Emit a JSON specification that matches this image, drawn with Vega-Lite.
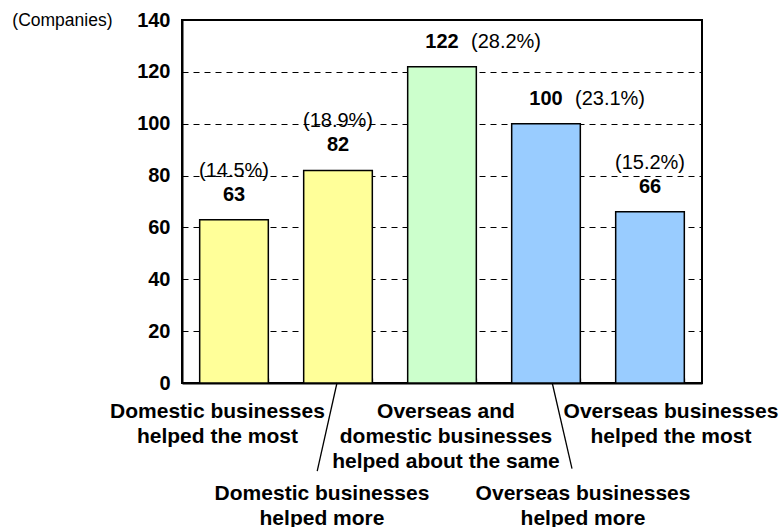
{
  "$schema": "https://vega.github.io/schema/vega-lite/v6.json",
  "width": 520,
  "height": 363,
  "autosize": {"type": "none"},
  "padding": {"left": 182, "top": 20, "right": 82, "bottom": 144},
  "background": "white",
  "config": {
    "font": "Liberation Sans",
    "view": {"stroke": "black", "strokeWidth": 2}
  },
  "data": {
    "values": [
      {"category": "Domestic businesses helped the most", "group": "Domestic", "companies": 63, "share": "(14.5%)"},
      {"category": "Domestic businesses helped more", "group": "Domestic", "companies": 82, "share": "(18.9%)"},
      {"category": "Overseas and domestic businesses helped about the same", "group": "Both", "companies": 122, "share": "(28.2%)"},
      {"category": "Overseas businesses helped more", "group": "Overseas", "companies": 100, "share": "(23.1%)"},
      {"category": "Overseas businesses helped the most", "group": "Overseas", "companies": 66, "share": "(15.2%)"}
    ]
  },
  "layer": [
    {
      "mark": {"type": "bar", "stroke": "black", "strokeWidth": 1.5},
      "encoding": {
        "x": {
          "field": "category", "type": "nominal",
          "scale": {"type": "band", "paddingInner": 0.34, "paddingOuter": 0.17,
            "domain": ["Domestic businesses helped the most", "Domestic businesses helped more", "Overseas and domestic businesses helped about the same", "Overseas businesses helped more", "Overseas businesses helped the most"]},
          "axis": {
            "orient": "bottom",
            "title": null,
            "domainColor": "black", "domainWidth": 2,
            "tickBand": "extent", "tickSize": -5, "tickColor": "black", "tickWidth": 1.2,
            "labels": false
          }
        },
        "y": {
          "field": "companies", "type": "quantitative",
          "scale": {"domain": [0, 140]},
          "axis": {
            "title": "(Companies)", "titleAngle": 0, "titleAlign": "right", "titleBaseline": "middle",
            "titleX": -70, "titleY": 0, "titleFontSize": 17.5, "titleFontWeight": "normal", "titleColor": "black",
            "values": [0, 20, 40, 60, 80, 100, 120, 140],
            "labelFontSize": 20, "labelFontWeight": "bold", "labelColor": "black", "labelPadding": 17,
            "tickSize": -5, "tickColor": "black",
            "grid": true, "gridDash": [6, 5], "gridColor": "black", "gridWidth": 1, "gridOpacity": 1,
            "domainColor": "black", "domainWidth": 2
          }
        },
        "color": {
          "field": "group", "type": "nominal",
          "scale": {"domain": ["Domestic", "Both", "Overseas"], "range": ["#FFFF99", "#CCFFCC", "#99CCFF"]},
          "legend": null
        }
      }
    },
    {
      "mark": {"type": "text", "dy": -25, "fontWeight": "bold", "fontSize": 20, "baseline": "middle", "color": "black"},
      "encoding": {
        "x": {"field": "category", "type": "nominal", "scale": {"type": "band", "paddingInner": 0.34, "paddingOuter": 0.17, "domain": ["Domestic businesses helped the most", "Domestic businesses helped more", "Overseas and domestic businesses helped about the same", "Overseas businesses helped more", "Overseas businesses helped the most"]}, "axis": null},
        "y": {"field": "companies", "type": "quantitative"},
        "text": {"field": "companies"}
      }
    },
    {
      "transform": [{"filter": "datum.companies < 100"}],
      "mark": {"type": "text", "dy": -49, "fontSize": 20, "baseline": "middle", "color": "black"},
      "encoding": {
        "x": {"field": "category", "type": "nominal", "scale": {"type": "band", "paddingInner": 0.34, "paddingOuter": 0.17, "domain": ["Domestic businesses helped the most", "Domestic businesses helped more", "Overseas and domestic businesses helped about the same", "Overseas businesses helped more", "Overseas businesses helped the most"]}, "axis": null},
        "y": {"field": "companies", "type": "quantitative"},
        "text": {"field": "share"}
      }
    },
    {
      "transform": [{"filter": "datum.companies >= 100"}],
      "mark": {"type": "text", "dy": -25, "dx": 29, "align": "left", "fontSize": 20, "baseline": "middle", "color": "black"},
      "encoding": {
        "x": {"field": "category", "type": "nominal", "scale": {"type": "band", "paddingInner": 0.34, "paddingOuter": 0.17, "domain": ["Domestic businesses helped the most", "Domestic businesses helped more", "Overseas and domestic businesses helped about the same", "Overseas businesses helped more", "Overseas businesses helped the most"]}, "axis": null},
        "y": {"field": "companies", "type": "quantitative"},
        "text": {"field": "share"}
      }
    },
    {
      "data": {"values": [
        {"from": 1.49, "to": 1.3, "top": 0, "bottom": -34},
        {"from": 3.56, "to": 3.75, "top": 0, "bottom": -33}
      ]},
      "mark": {"type": "rule", "color": "black", "strokeWidth": 1.3},
      "encoding": {
        "x": {"field": "from", "type": "quantitative", "scale": {"domain": [0, 5]}, "axis": null},
        "x2": {"field": "to"},
        "y": {"field": "top", "type": "quantitative", "scale": {"domain": [0, 140]}},
        "y2": {"field": "bottom"}
      }
    },
    {
      "data": {"values": [
        {"label": "Domestic businesses\nhelped the most", "pos": 0.341, "level": -6.9},
        {"label": "Domestic businesses\nhelped more", "pos": 1.346, "level": -38.6},
        {"label": "Overseas and\ndomestic businesses\nhelped about the same", "pos": 2.538, "level": -6.9},
        {"label": "Overseas businesses\nhelped more", "pos": 3.856, "level": -38.6},
        {"label": "Overseas businesses\nhelped the most", "pos": 4.702, "level": -6.9}
      ]},
      "mark": {"type": "text", "lineBreak": "\n", "lineHeight": 25, "fontSize": 21, "fontWeight": "bold", "align": "center", "baseline": "top", "color": "black"},
      "encoding": {
        "x": {"field": "pos", "type": "quantitative", "scale": {"domain": [0, 5]}, "axis": null},
        "y": {"field": "level", "type": "quantitative", "scale": {"domain": [0, 140]}},
        "text": {"field": "label"}
      }
    }
  ],
  "resolve": {"scale": {"x": "independent"}}
}
